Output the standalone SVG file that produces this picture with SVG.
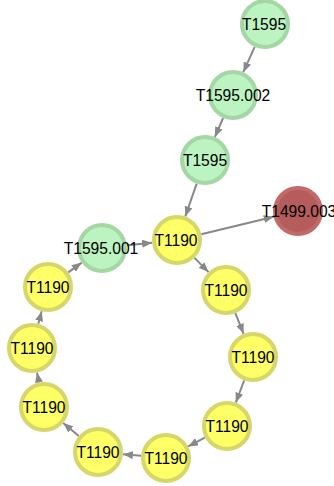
<svg xmlns="http://www.w3.org/2000/svg" width="334" height="486" viewBox="0 0 334 486">
  <style>
    .edge { stroke: #888888; stroke-width: 2; fill: none; }
    .node circle { stroke-width: 4; }
    .green circle { fill: #bbf3c1; stroke: #a5d6a6; }
    .yellow circle { fill: #ffff66; stroke: #d6d66a; }
    .red circle { fill: #b55c5c; stroke: #c26a6a; }
    .node text { font-family: "Liberation Sans", Arial, sans-serif; font-size: 15.6px; fill: #000000; text-anchor: middle; }
  </style>
  <defs>
    <marker id="arrow" markerUnits="userSpaceOnUse" markerWidth="10" markerHeight="8" refX="10" refY="4" orient="auto">
      <path d="M0,0 L10,4 L0,8 z" fill="#888888"/>
    </marker>
  </defs>

  <g id="connectors">
    <line class="edge" x1="254.7" y1="46.8" x2="243.3" y2="72.2" marker-end="url(#arrow)"/>
    <line class="edge" x1="223.1" y1="118.0" x2="214.9" y2="137.0" marker-end="url(#arrow)"/>
    <line class="edge" x1="196.7" y1="183.6" x2="185.3" y2="216.4" marker-end="url(#arrow)"/>
    <line class="edge" x1="201.3" y1="234.2" x2="273.7" y2="216.8" marker-end="url(#arrow)"/>
    <line class="edge" x1="126.9" y1="245.3" x2="152.1" y2="242.7" marker-end="url(#arrow)"/>
    <line class="edge" x1="194.5" y1="257.9" x2="208.5" y2="272.1" marker-end="url(#arrow)"/>
    <line class="edge" x1="235.3" y1="313.2" x2="243.7" y2="333.8" marker-end="url(#arrow)"/>
    <line class="edge" x1="244.2" y1="380.4" x2="235.8" y2="402.6" marker-end="url(#arrow)"/>
    <line class="edge" x1="204.9" y1="437.6" x2="188.1" y2="446.4" marker-end="url(#arrow)"/>
    <line class="edge" x1="141.1" y1="455.8" x2="122.9" y2="454.2" marker-end="url(#arrow)"/>
    <line class="edge" x1="78.8" y1="436.0" x2="63.2" y2="423.0" marker-end="url(#arrow)"/>
    <line class="edge" x1="39.0" y1="382.5" x2="37.0" y2="372.5" marker-end="url(#arrow)"/>
    <line class="edge" x1="38.3" y1="323.8" x2="41.7" y2="311.2" marker-end="url(#arrow)"/>
    <line class="edge" x1="68.3" y1="272.4" x2="81.7" y2="262.6" marker-end="url(#arrow)"/>
  </g>

  <g id="n-t1595-top" class="node green"><circle cx="265" cy="24" r="23"/><text x="264" y="29.5">T1595</text></g>
  <g id="n-t1595-002" class="node green"><circle cx="233" cy="95" r="23"/><text x="233" y="100.5">T1595.002</text></g>
  <g id="n-t1595-mid" class="node green"><circle cx="205" cy="160" r="23"/><text x="205" y="165.5">T1595</text></g>
  <g id="n-t1190-hub" class="node yellow"><circle cx="177" cy="240" r="23"/><text x="176" y="245.5">T1190</text></g>
  <g id="n-t1499-003" class="node red"><circle cx="298" cy="211" r="23"/><text x="299" y="216.5">T1499.003</text></g>
  <g id="n-t1595-001" class="node green"><circle cx="102" cy="248" r="23"/><text x="101" y="253.5">T1595.001</text></g>
  <g id="n-t1190-a" class="node yellow"><circle cx="226" cy="290" r="23"/><text x="226" y="295.5">T1190</text></g>
  <g id="n-t1190-b" class="node yellow"><circle cx="253" cy="357" r="23"/><text x="253" y="362.5">T1190</text></g>
  <g id="n-t1190-c" class="node yellow"><circle cx="227" cy="426" r="23"/><text x="227" y="431.5">T1190</text></g>
  <g id="n-t1190-d" class="node yellow"><circle cx="166" cy="458" r="23"/><text x="166" y="463.5">T1190</text></g>
  <g id="n-t1190-e" class="node yellow"><circle cx="98" cy="452" r="23"/><text x="98" y="457.5">T1190</text></g>
  <g id="n-t1190-f" class="node yellow"><circle cx="44" cy="407" r="23"/><text x="44" y="412.5">T1190</text></g>
  <g id="n-t1190-g" class="node yellow"><circle cx="32" cy="348" r="23"/><text x="32" y="353.5">T1190</text></g>
  <g id="n-t1190-h" class="node yellow"><circle cx="48" cy="287" r="23"/><text x="48" y="292.5">T1190</text></g>
</svg>
